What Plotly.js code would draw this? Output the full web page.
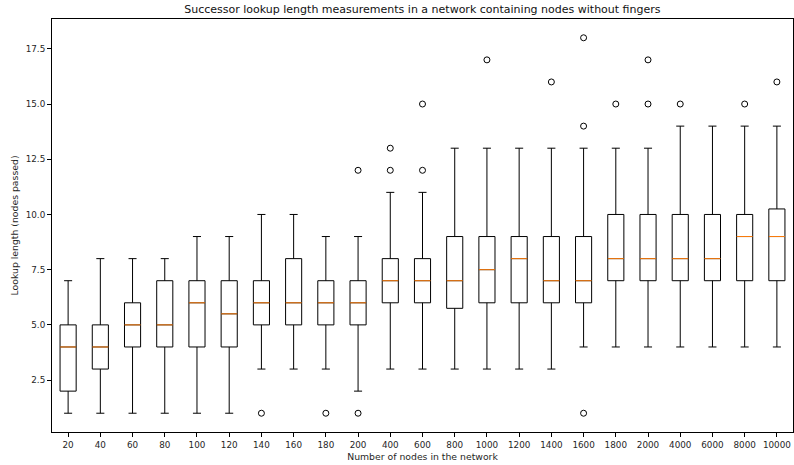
<!DOCTYPE html>
<html>
<head>
<meta charset="utf-8">
<script src="https://cdn.plot.ly/plotly-3.0.1.min.js"></script>
<style>html,body{margin:0;padding:0;background:#fff}#chart{width:794px;height:465px}</style>
</head>
<body>
<div id="chart"></div>
<script>
const categories = ["20","40","60","80","100","120","140","160","180","200","400","600","800","1000","1200","1400","1600","1800","2000","4000","6000","8000","10000"];
const lowerFence = [1,1,1,1,1,1,3,3,3,2,3,3,3,3,3,3,4,4,4,4,4,4,4];
const q1Values   = [2,3,4,4,4,4,5,5,5,5,6,6,5.75,6,6,6,6,7,7,7,7,7,7];
const medians    = [4,4,5,5,6,5.5,6,6,6,6,7,7,7,7.5,8,7,7,8,8,8,8,9,9];
const q3Values   = [5,5,6,7,7,7,7,8,7,7,8,8,9,9,9,9,9,10,10,10,10,10,10.25];
const upperFence = [7,8,8,8,9,9,10,10,9,9,11,11,13,13,13,13,13,13,13,14,14,14,14];
const outliers   = [[],[],[],[],[],[],[1],[],[1],[1,12],[12,13],[12,15],[],[17],[],[16],[1,14,18],[15],[15,17],[15],[],[15],[16]];
const yTickVals  = [2.5,5,7.5,10,12.5,15,17.5];
const yTickText  = ['2.5','5.0','7.5','10.0','12.5','15.0','17.5'];

const pos = categories.map((c,i)=>i+1);
const boxW = 0.5;

const boxTrace = {
  type:'box',
  x: pos,
  q1: q1Values, median: medians, q3: q3Values,
  lowerfence: lowerFence, upperfence: upperFence,
  width: boxW,
  whiskerwidth: 0.5,
  line:{color:'#000', width:1},
  fillcolor:'rgba(255,255,255,0)',
  hoverinfo:'skip',
  showlegend:false
};

const mx=[], my=[];
pos.forEach((p,i)=>{ mx.push(p-boxW/2, p+boxW/2, null); my.push(medians[i], medians[i], null); });
const medTrace = {type:'scatter', mode:'lines', x:mx, y:my, line:{color:'#ff7f0e', width:1}, hoverinfo:'skip', showlegend:false};

const ox=[], oy=[];
outliers.forEach((arr,i)=>arr.forEach(v=>{ox.push(pos[i]); oy.push(v);}));
const outTrace = {type:'scatter', mode:'markers', x:ox, y:oy,
  marker:{symbol:'circle-open', size:6, color:'#000', line:{width:1, color:'#000'}}, hoverinfo:'skip', showlegend:false};

const fam = 'DejaVu Sans, sans-serif';
const layout = {
  width:794, height:465,
  margin:{l:52, r:1, t:19, b:33},
  paper_bgcolor:'#fff', plot_bgcolor:'#fff',
  font:{family:fam, color:'#262626', size:9},
  title:{text:'Successor lookup length measurements in a network containing nodes without fingers',
    font:{family:fam, size:11, color:'#111'}, x:0.532, xanchor:'center', yref:'container', y:1-9/465, yanchor:'middle'},
  xaxis:{
    range:[0.5, 23.5], tickvals:pos, ticktext:categories,
    showgrid:false, zeroline:false,
    showline:true, mirror:true, linecolor:'#000', linewidth:1,
    ticks:'outside', ticklen:4, tickcolor:'#000',
    tickfont:{size:8.8},
    title:{text:'Number of nodes in the network', font:{size:9.3}, standoff:4}
  },
  yaxis:{
    range:[0.15, 18.85], tickvals:yTickVals, ticktext:yTickText,
    showgrid:false, zeroline:false,
    showline:true, mirror:true, linecolor:'#000', linewidth:1,
    ticks:'outside', ticklen:4, tickcolor:'#000',
    tickfont:{size:8.8},
    title:{text:'Lookup length (nodes passed)', font:{size:9.3}, standoff:5}
  }
};
Plotly.newPlot('chart', [boxTrace, medTrace, outTrace], layout, {staticPlot:true, displayModeBar:false});
</script>
</body>
</html>
